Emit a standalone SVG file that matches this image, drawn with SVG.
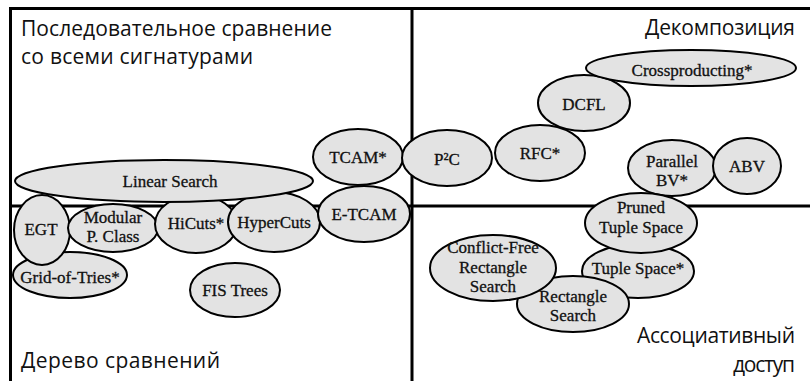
<svg xmlns="http://www.w3.org/2000/svg" width="810" height="381" viewBox="0 0 810 381">
<style>
.frame{stroke:#000;stroke-width:3;fill:none}
.n ellipse{fill:#e3e3e3;stroke:#000;stroke-width:2}
.n text{font-family:"Liberation Serif","Times New Roman",serif;font-size:17px;fill:#111;stroke:#111;stroke-width:0.3;text-anchor:middle}
.q{font-family:"Open Sans","Noto Sans",sans-serif;font-size:21px;fill:#111}
.r{text-anchor:end}
</style>
<rect width="810" height="381" fill="#fff"/>
<g id="frame">
<line class="frame" x1="10.5" y1="8.5" x2="810" y2="8.5"/>
<line class="frame" x1="10.5" y1="7" x2="10.5" y2="381"/>
<line class="frame" x1="412" y1="8" x2="412" y2="381"/>
<line class="frame" x1="10" y1="206" x2="810" y2="206"/>
</g>
<g id="quadrant-labels">
<text class="q" x="21" y="36" textLength="311">Последовательное сравнение</text>
<text class="q" x="21" y="64" textLength="232">со всеми сигнатурами</text>
<text class="q r" x="795" y="35" textLength="150">Декомпозиция</text>
<text class="q" x="21" y="368" textLength="199">Дерево сравнений</text>
<text class="q r" x="795" y="343" textLength="158">Ассоциативный</text>
<text class="q r" x="795" y="372" textLength="62">доступ</text>
</g>
<g id="grid-of-tries" class="n"><ellipse cx="70" cy="275" rx="57" ry="23"/><text x="70" y="283">Grid-of-Tries*</text></g>
<g id="egt" class="n"><ellipse cx="42" cy="230" rx="28" ry="35"/><text x="41" y="235">EGT</text></g>
<g id="modular" class="n"><ellipse cx="113" cy="228" rx="45" ry="24"/><text x="113" y="223">Modular</text><text x="113" y="242">P. Class</text></g>
<g id="hicuts" class="n"><ellipse cx="196" cy="224" rx="41" ry="29"/><text x="196" y="229">HiCuts*</text></g>
<g id="hypercuts" class="n"><ellipse cx="274" cy="222" rx="46" ry="30"/><text x="274" y="228">HyperCuts</text></g>
<g id="linear-search" class="n"><ellipse cx="164" cy="181" rx="149" ry="21"/><text x="170" y="187">Linear Search</text></g>
<g id="fis-trees" class="n"><ellipse cx="235" cy="290" rx="45" ry="27"/><text x="235" y="296">FIS Trees</text></g>
<g id="e-tcam" class="n"><ellipse cx="364" cy="214" rx="46" ry="28"/><text x="364" y="220">E-TCAM</text></g>
<g id="tcam" class="n"><ellipse cx="358" cy="157" rx="45" ry="28"/><text x="358" y="163">TCAM*</text></g>
<g id="p2c" class="n"><ellipse cx="447" cy="158" rx="45" ry="28"/><text x="447" y="165">P²C</text></g>
<g id="rfc" class="n"><ellipse cx="540" cy="153" rx="45" ry="28"/><text x="540" y="159">RFC*</text></g>
<g id="dcfl" class="n"><ellipse cx="584" cy="103" rx="46" ry="28"/><text x="584" y="110">DCFL</text></g>
<g id="crossproducting" class="n"><ellipse cx="691" cy="68" rx="105" ry="18"/><text x="692" y="76">Crossproducting*</text></g>
<g id="parallel-bv" class="n"><ellipse cx="672" cy="168" rx="44" ry="28"/><text x="672" y="167">Parallel</text><text x="672" y="186">BV*</text></g>
<g id="abv" class="n"><ellipse cx="747" cy="166" rx="34" ry="28"/><text x="747" y="172">ABV</text></g>
<g id="tuple-space" class="n"><ellipse cx="638" cy="271" rx="56" ry="27"/><text x="638" y="274">Tuple Space*</text></g>
<g id="pruned-tuple-space" class="n"><ellipse cx="641" cy="223" rx="56" ry="30"/><text x="641" y="213">Pruned</text><text x="641" y="233">Tuple Space</text></g>
<g id="rectangle-search" class="n"><ellipse cx="573" cy="304" rx="56" ry="28"/><text x="573" y="302">Rectangle</text><text x="573" y="321">Search</text></g>
<g id="conflict-free" class="n"><ellipse cx="493" cy="268" rx="63" ry="33"/><text x="493" y="253">Conflict-Free</text><text x="493" y="273">Rectangle</text><text x="493" y="292">Search</text></g>
</svg>
